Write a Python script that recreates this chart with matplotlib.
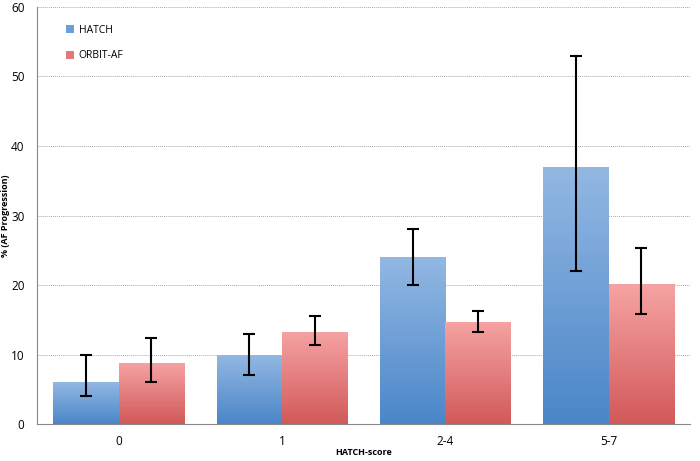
import numpy as np
import matplotlib.pyplot as plt
from matplotlib.colors import LinearSegmentedColormap
from matplotlib.patches import Patch

categories = ["0", "1", "2-4", "5-7"]
hatch_vals = [6.0, 10.0, 24.0, 37.0]
hatch_lo = [4.0, 7.0, 20.0, 22.0]
hatch_hi = [10.0, 13.0, 28.0, 53.0]
orbit_vals = [8.8, 13.3, 14.7, 20.1]
orbit_lo = [6.1, 11.4, 13.3, 15.8]
orbit_hi = [12.4, 15.5, 16.3, 25.3]

plt.rcParams['font.family'] = ['Open Sans', 'DejaVu Sans']

fig = plt.figure(figsize=(7, 4.61), dpi=100)
ax = fig.add_axes([0.053, 0.080, 0.933, 0.905])

x = np.arange(len(categories))
w = 0.4

blue_cmap = LinearSegmentedColormap.from_list("b", ["#4a86c8", "#93b8e3"])
red_cmap = LinearSegmentedColormap.from_list("r", ["#d2595a", "#f6a3a3"])


def gradient_bars(xpos, vals, cmap):
    bars = ax.bar(xpos, vals, w, color="none", edgecolor="none", zorder=2)
    grad = np.linspace(0, 1, 256).reshape(-1, 1)
    for b in bars:
        x0, y0 = b.get_x(), b.get_y()
        im = ax.imshow(grad, cmap=cmap, origin="lower", aspect="auto",
                       extent=[x0, x0 + b.get_width(), y0, y0 + b.get_height()],
                       zorder=2)
        im.set_clip_path(b)
    return bars


gradient_bars(x - w / 2, hatch_vals, blue_cmap)
gradient_bars(x + w / 2, orbit_vals, red_cmap)

h_err = [np.array(hatch_vals) - np.array(hatch_lo), np.array(hatch_hi) - np.array(hatch_vals)]
o_err = [np.array(orbit_vals) - np.array(orbit_lo), np.array(orbit_hi) - np.array(orbit_vals)]
ax.errorbar(x - w / 2, hatch_vals, yerr=h_err, fmt="none", ecolor="black",
            elinewidth=1.5, capsize=4, capthick=1.5, zorder=3)
ax.errorbar(x + w / 2, orbit_vals, yerr=o_err, fmt="none", ecolor="black",
            elinewidth=1.5, capsize=4, capthick=1.5, zorder=3)

ax.set_xlim(-0.5, 3.5)
ax.set_ylim(0, 60)
ax.set_yticks(range(0, 61, 10))
ax.set_xticks(x)
ax.set_xticklabels(categories)
ax.tick_params(axis="both", length=0, labelsize=8.5)
ax.tick_params(axis="y", pad=9)
ax.tick_params(axis="x", pad=8)
ax.yaxis.grid(True, linestyle=(0, (1, 1)), color="#aaaaaa", linewidth=0.7, zorder=0)
ax.set_axisbelow(True)
for s in ["top", "right"]:
    ax.spines[s].set_visible(False)
for s in ["left", "bottom"]:
    ax.spines[s].set_color("#888888")

ax.set_ylabel("% (AF Progression)", fontsize=6.5, fontweight="bold")
ax.yaxis.set_label_coords(-0.041, 0.5)
ax.set_xlabel("HATCH-score", fontsize=6.5, fontweight="bold")
ax.xaxis.set_label_coords(0.5, -0.058)

handles = [Patch(facecolor="#6a9fd8"), Patch(facecolor="#e37878")]
ax.legend(handles, ["HATCH", "ORBIT-AF"], loc="upper left", frameon=False,
          fontsize=7.5, handlelength=0.8, handleheight=0.8, handletextpad=0.4,
          labelspacing=1.4, bbox_to_anchor=(0.03, 0.98))

fig.savefig("out.png", dpi=100)
